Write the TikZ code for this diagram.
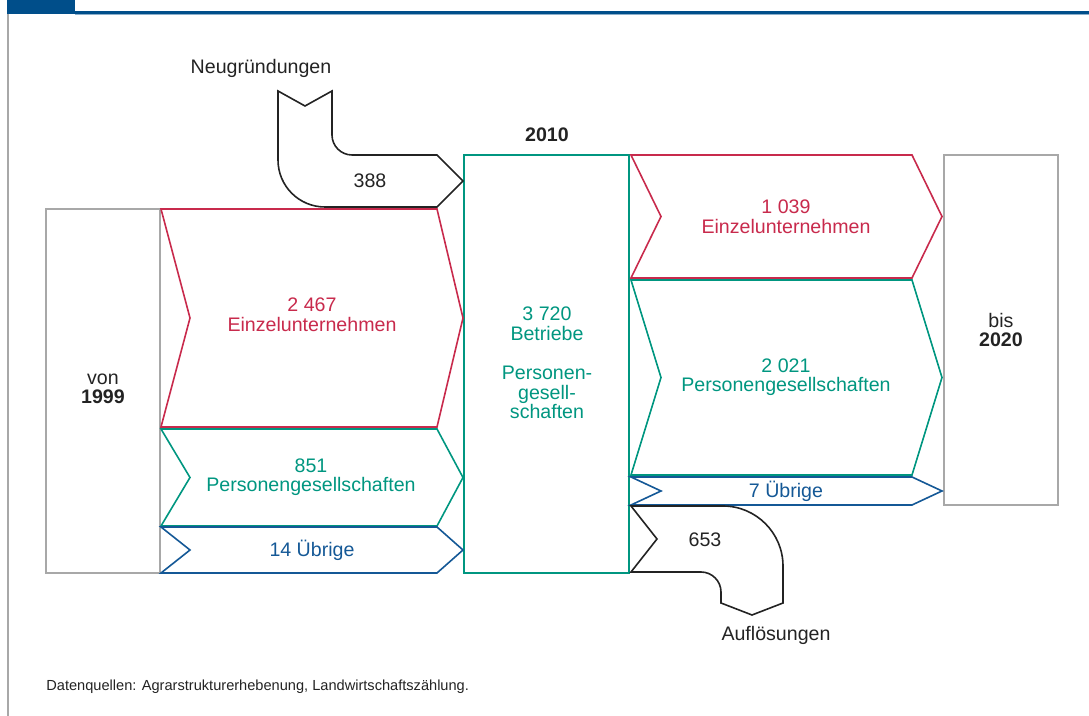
\documentclass[tikz,border=0pt]{standalone}
\usepackage{fontspec}
\setmainfont{Liberation Sans}
\definecolor{ezred}{RGB}{200,42,76}
\definecolor{pggreen}{RGB}{0,150,128}
\definecolor{ubblue}{RGB}{20,88,150}
\definecolor{boxgrey}{RGB}{168,168,168}
\definecolor{headblue}{RGB}{0,78,138}
\definecolor{ink}{RGB}{35,35,35}

\begin{document}
\begin{tikzpicture}[x=0.5pt,y=-0.5pt,line join=miter,
    band/.style={line width=0.8pt},
    yearbox/.style={draw=boxgrey,line width=0.8pt},
    lbl/.style={align=center,font=\fontsize{9.8}{9.8}\selectfont,inner sep=0pt},
    note/.style={font=\fontsize{7.3}{8}\selectfont,text=ink,inner sep=0pt}]
    \useasboundingbox (0,0) rectangle (1089,716);
    % header
    \fill[headblue] (7,0) rectangle (75,12);
    \fill[headblue] (7,11.5) rectangle (1089,14);
    \fill[headblue!45] (75,14) rectangle (1089,15);
    \draw[boxgrey,line width=0.7pt] (8,14) -- (8,716);

    \draw[yearbox] (46,209) rectangle (160,573);
    \draw[yearbox] (944,155) rectangle (1058,505);
    \draw[pggreen,line width=0.8pt] (464,155) rectangle (629,573);

    \draw[band,ezred] (161,209) -- (437,209) -- (463,318) -- (437,427) -- (161,427) -- (190,318) -- cycle;
    \draw[band,pggreen] (161,429) -- (437,429) -- (463,477.5) -- (437,526) -- (161,526) -- (190,477.5) -- cycle;
    \draw[band,ubblue] (161,527) -- (437,527) -- (463,550) -- (437,573) -- (161,573) -- (190,550) -- cycle;
    \draw[band,ezred] (631,155) -- (912,155) -- (942,216.5) -- (912,278) -- (631,278) -- (661,216.5) -- cycle;
    \draw[band,pggreen] (631,280) -- (912,280) -- (942,377.5) -- (912,475) -- (631,475) -- (661,377.5) -- cycle;
    \draw[band,ubblue] (631,477) -- (912,477) -- (942,491) -- (912,505) -- (631,505) -- (661,491) -- cycle;

    \draw[band,ink] (278,91) -- (305,106) -- (332,91) -- (332,135)
        .. controls (332,146) and (341,155) .. (352,155) -- (437,155) -- (463,181) -- (437,207) -- (325,207)
        .. controls (299,207) and (278,186) .. (278,160) -- cycle;
    \draw[band,ink] (631,506) -- (723,506) .. controls (756,506) and (783,533) .. (783,566)
        -- (783,603) -- (752,615) -- (721,603) -- (721,592)
        .. controls (721,581) and (712,572) .. (701,572) -- (631,572) -- (657,539) -- cycle;

    \node[lbl,text=ink] (von) at (103,389) {von\\\textbf{1999}};
    \node[lbl,text=ink] (bis) at (1001,330) {bis\\\textbf{2020}};
    \node[lbl,text=ink] (jahr) at (547,135) {\textbf{2010}};
    \node[lbl,text=pggreen] (betriebe) at (547,363) {3~720\\Betriebe\\[9.8pt]Personen-\\gesell-\\schaften};
    \node[lbl,text=ezred] (ezlinks) at (312,315) {2~467\\Einzelunternehmen};
    \node[lbl,text=pggreen] (pglinks) at (311,477) {851\\Personengesellschaften};
    \node[lbl,text=ubblue] (ublinks) at (312,550) {14 Übrige};
    \node[lbl,text=ezred] (ezrechts) at (786,217) {1~039\\Einzelunternehmen};
    \node[lbl,text=pggreen] (pgrechts) at (786,377) {2~021\\Personengesellschaften};
    \node[lbl,text=ubblue] (ubrechts) at (786,491) {7 Übrige};
    \node[lbl,text=ink] (zugang) at (370,181) {388};
    \node[lbl,text=ink] (abgang) at (705,540) {653};
    \node[lbl,text=ink] (neu) at (261,68) {Neugründungen};
    \node[lbl,text=ink] (aufl) at (776,635) {Auflösungen};
    \node[note,anchor=west] (quelle) at (46,687) {Datenquellen: Agrarstrukturerhebenung, Landwirtschaftszählung.};
\end{tikzpicture}
\end{document}
